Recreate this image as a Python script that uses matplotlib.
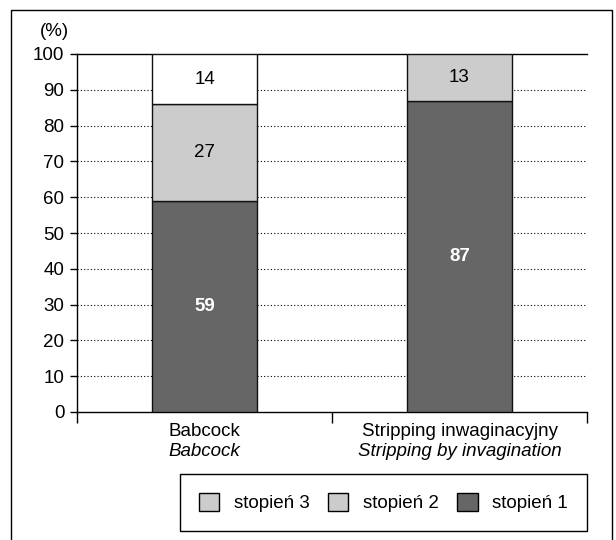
import matplotlib.pyplot as plt
from matplotlib.patches import Rectangle, Patch
from matplotlib.transforms import blended_transform_factory

plt.rcParams['font.family'] = ['Liberation Sans', 'DejaVu Sans']

categories = ['Babcock', 'Stripping inwaginacyjny']
categories_en = ['Babcock', 'Stripping by invagination']
stopien1 = [59, 87]
stopien2 = [27, 13]
stopien3 = [14, 0]
yticks = [0, 10, 20, 30, 40, 50, 60, 70, 80, 90, 100]

dark = '#666666'
light = '#cccccc'
fs = 13.5

fig = plt.figure(figsize=(6.16, 5.4), dpi=100)
ax = fig.add_axes([77/616, 1 - 412/540, 510/616, 358/540])

x = list(range(len(categories)))
w = 0.415
bottom2 = stopien1
bottom3 = [a + b for a, b in zip(stopien1, stopien2)]
ax.bar(x, stopien1, w, color=dark, edgecolor='#111111', linewidth=1, zorder=3)
ax.bar(x, stopien2, w, bottom=bottom2, color=light, edgecolor='#111111', linewidth=1, zorder=3)
ax.bar([i for i in x if stopien3[i] > 0], [v for v in stopien3 if v > 0], w,
       bottom=[bottom3[i] for i in x if stopien3[i] > 0],
       color='white', edgecolor='#111111', linewidth=1, zorder=3)

for i in x:
    ax.text(i, stopien1[i] / 2, str(stopien1[i]), ha='center', va='center',
            color='white', fontsize=fs, fontweight='bold', zorder=4)
    ax.text(i, bottom2[i] + stopien2[i] / 2, str(stopien2[i]), ha='center', va='center',
            color='black', fontsize=fs, zorder=4)
    if stopien3[i] > 0:
        ax.text(i, bottom3[i] + stopien3[i] / 2, str(stopien3[i]), ha='center', va='center',
                color='black', fontsize=fs, zorder=4)

ax.set_xlim(-0.5, 1.5)
ax.set_ylim(0, 100)
ax.set_yticks(yticks)
ax.tick_params(axis='y', labelsize=fs, length=5, width=1, pad=4)
ax.set_xticks(x)
ax.set_xticklabels([])
ax.tick_params(axis='x', which='major', length=0)
ax.set_xticks([-0.5, 0.5, 1.5], minor=True)
ax.tick_params(axis='x', which='minor', length=8, width=1, direction='out')
for y in yticks[1:-1]:
    ax.axhline(y, color='black', linestyle=(0, (1, 2)), linewidth=0.8, zorder=1)
ax.spines['right'].set_visible(False)
for s in ['left', 'bottom', 'top']:
    ax.spines[s].set_linewidth(1)

tr = blended_transform_factory(ax.transData, fig.transFigure)
for i in x:
    fig.text(i, 1 - 432/540, categories[i], transform=tr, ha='center', va='center', fontsize=fs)
    fig.text(i, 1 - 452/540, categories_en[i], transform=tr, ha='center', va='center',
             fontsize=fs, style='italic')

fig.text(54/616, 1 - 32/540, '(%)', ha='center', va='center', fontsize=fs)

fig.patches.append(Rectangle((11/616, -0.05), 601/616, 1 - 10/540 + 0.05,
                             transform=fig.transFigure, fill=False,
                             edgecolor='black', linewidth=1))

handles = [Patch(facecolor=light, edgecolor='black', label='stopień 3'),
           Patch(facecolor=light, edgecolor='black', label='stopień 2'),
           Patch(facecolor=dark, edgecolor='black', label='stopień 1')]
leg = fig.legend(handles=handles, loc='center', ncol=3, mode='expand',
                 bbox_to_anchor=(180/616, 1 - 530/540, 407/616, 55/540),
                 borderaxespad=0, fontsize=fs, fancybox=False, framealpha=1,
                 edgecolor='black', handlelength=1.1, handleheight=1.1, borderpad=1.0)
leg.get_frame().set_linewidth(1)

fig.savefig('out.png', dpi=100)
